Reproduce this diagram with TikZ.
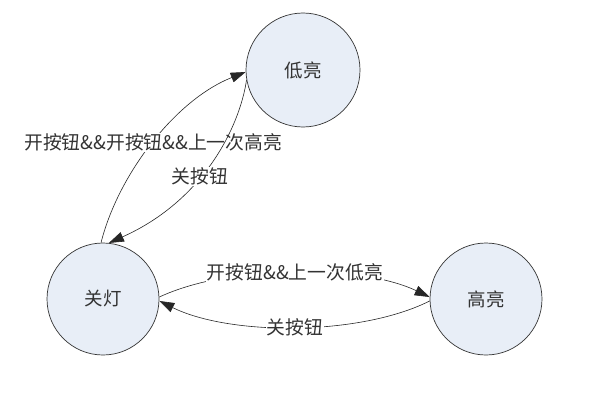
\documentclass[tikz,border=0pt]{standalone}
\usepackage{fontspec}
\newfontfamily\cjk{Noto Sans CJK SC}
\usetikzlibrary{arrows.meta}
\definecolor{lampfill}{HTML}{E8EEF7}
\definecolor{ink}{HTML}{333333}
\begin{document}
\begin{tikzpicture}[x=1pt,y=-1pt,
  lampstate/.style={circle,draw=ink,fill=lampfill,minimum size=112pt,inner sep=0pt,
    font=\cjk\fontsize{18.5}{20}\selectfont,text=ink,line width=0.7pt},
  trans/.style={-{Triangle[length=15pt,width=10pt]},line width=0.6pt,draw=black!85,fill=none},
  lbl/.style={fill=white,inner sep=1pt,font=\cjk\fontsize{18.8}{20}\selectfont,text=ink}]
\useasboundingbox (0,0) rectangle (594,396);
\node[lampstate,minimum size=114pt] (low) at (303,70) {低亮};
\node[lampstate] (off) at (103,299) {关灯};
\node[lampstate] (high) at (486,299) {高亮};
\draw[trans] (off.92) .. controls (118,175) and (175,100) ..
  node[lbl,pos=0.5] (l1) {开按钮\&\&开按钮\&\&上一次高亮} (low.182);
\draw[trans] (low.190) .. controls (240,125) and (205,200) ..
  node[lbl,pos=0.58] (l2) {关按钮} (off.84);
\draw[trans] (off.2) .. controls (230,264) and (360,264) ..
  node[lbl,pos=0.5] (l3) {开按钮\&\&上一次低亮} (high.178);
\draw[trans] (high.182) .. controls (360,336) and (230,336) ..
  node[lbl,pos=0.5] (l4) {关按钮} (off.358);
\end{tikzpicture}
\end{document}
